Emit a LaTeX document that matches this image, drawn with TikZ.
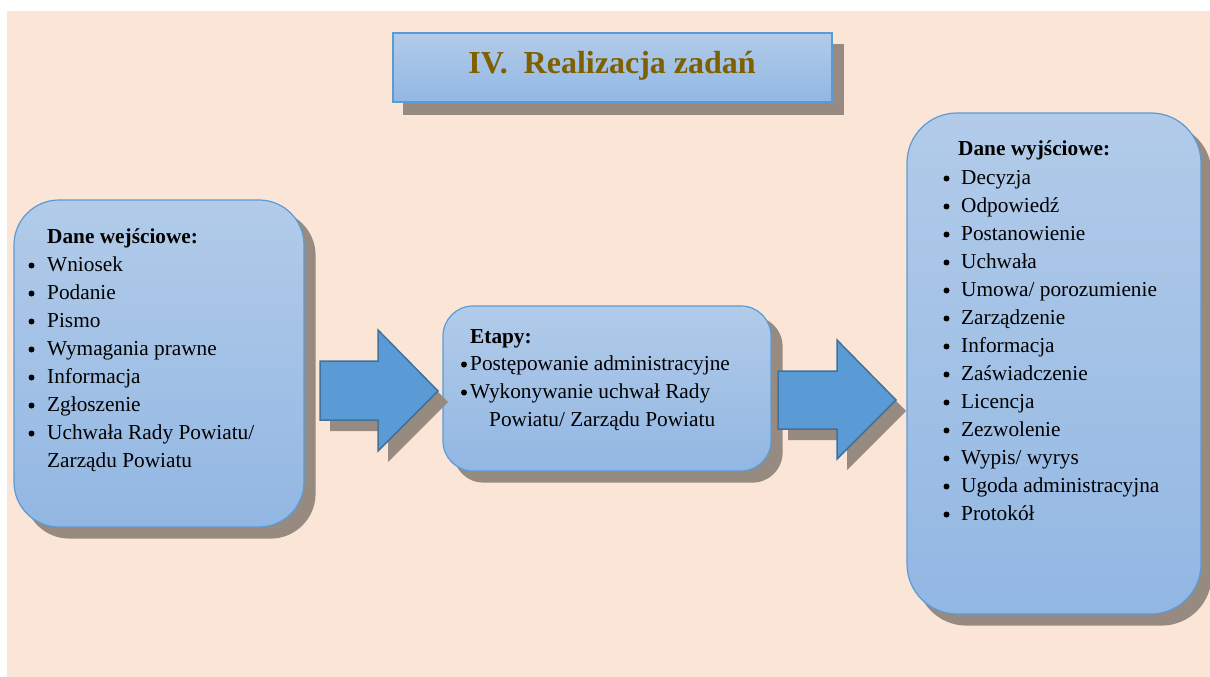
\documentclass[tikz,border=0pt]{standalone}
\usepackage{fontspec}
\setmainfont{Liberation Serif}
\usetikzlibrary{backgrounds}
\definecolor{peach}{RGB}{251,229,214}
\definecolor{boxtop}{RGB}{178,203,233}
\definecolor{boxbot}{RGB}{146,183,227}
\definecolor{boxline}{RGB}{91,155,213}
\definecolor{arrowfill}{RGB}{91,155,213}
\definecolor{arrowline}{RGB}{65,113,156}
\definecolor{shadowc}{RGB}{151,139,129}
\definecolor{titlec}{RGB}{127,96,0}
\begin{document}
\begin{tikzpicture}[x=1pt,y=-1pt,
  panel/.style={draw=boxline,line width=1.2pt,top color=boxtop,bottom color=boxbot,inner sep=0pt},
  txt/.style={anchor=base west,inner sep=0pt,font=\fontsize{21.3}{28}\selectfont},
  hdr/.style={anchor=base west,inner sep=0pt,font=\fontsize{21.3}{28}\selectfont\bfseries},
  dot/.style={circle,fill=black,inner sep=0pt,minimum size=6pt},
  bigarrow/.style={fill=arrowfill,draw=arrowline,line width=1.5pt,line join=miter},
  shadowfill/.style={fill=shadowc}]
\useasboundingbox (0,0) rectangle (1210,677);

% panels
\node[panel,minimum width=439pt,minimum height=69pt] (title) at (612.5,67.5) {};
\node[panel,minimum width=290pt,minimum height=327pt,rounded corners=45pt] (boxin) at (159,363.5) {};
\node[panel,minimum width=328pt,minimum height=165pt,rounded corners=30pt] (boxmid) at (607,388.5) {};
\node[panel,minimum width=294pt,minimum height=501pt,rounded corners=50pt] (boxout) at (1054,363.5) {};

% title
\node[anchor=base,inner sep=0pt,font=\fontsize{32}{38}\selectfont\bfseries,text=titlec] (titletext) at (612,74) {IV.\ \ Realizacja zadań};

% input box
\node[hdr] (inh) at (47,243) {Dane wejściowe:};
\foreach \t [count=\i from 0] in {Wniosek,Podanie,Pismo,Wymagania prawne,Informacja,Zgłoszenie,Uchwała Rady Powiatu/}{
  \node[dot] (inb\i) at (31.5,265.5+28*\i) {};
  \node[txt] (ini\i) at (47,271+28*\i) {\t};
}
\node[txt] (ini7) at (47,467) {Zarządu Powiatu};

% middle box
\node[hdr] (midh) at (470,343) {Etapy:};
\node[dot] (midb0) at (464,364.5) {};
\node[txt] (midi0) at (470,370) {Postępowanie administracyjne};
\node[dot] (midb1) at (464,392.5) {};
\node[txt] (midi1) at (470,398) {Wykonywanie uchwał Rady};
\node[txt] (midi2) at (489,426) {Powiatu/ Zarządu Powiatu};

% output box
\node[hdr] (outh) at (958,155) {Dane wyjściowe:};
\foreach \t [count=\i from 0] in {Decyzja,Odpowiedź,Postanowienie,Uchwała,Umowa/ porozumienie,Zarządzenie,Informacja,Zaświadczenie,Licencja,Zezwolenie,Wypis/ wyrys,Ugoda administracyjna,Protokół}{
  \node[dot] (outb\i) at (946.5,178.5+28*\i) {};
  \node[txt] (outi\i) at (961,184+28*\i) {\t};
}

% block arrows
\begin{scope}[shift={(10,11)}]
  \fill[shadowfill] (320,361) -- (378,361) -- (378,330) -- (438,391) -- (378,451) -- (378,420) -- (320,420) -- cycle;
\end{scope}
\draw[bigarrow] (320,361) -- (378,361) -- (378,330) -- (438,391) -- (378,451) -- (378,420) -- (320,420) -- cycle;
\begin{scope}[shift={(10,11)}]
  \fill[shadowfill] (778,371) -- (837,371) -- (837,340) -- (896,400) -- (837,459) -- (837,429) -- (778,429) -- cycle;
\end{scope}
\draw[bigarrow] (778,371) -- (837,371) -- (837,340) -- (896,400) -- (837,459) -- (837,429) -- (778,429) -- cycle;

\begin{pgfonlayer}{background}
  \fill[peach] (7,11) rectangle (1210,677);
  \fill[shadowfill] ([shift={(11,12)}]title.north west) rectangle ([shift={(11,12)}]title.south east);
  \fill[shadowfill,rounded corners=45pt] ([shift={(11,11)}]boxin.north west) rectangle ([shift={(11,11)}]boxin.south east);
  \fill[shadowfill,rounded corners=30pt] ([shift={(11,11)}]boxmid.north west) rectangle ([shift={(11,11)}]boxmid.south east);
  \fill[shadowfill,rounded corners=50pt] ([shift={(10,11)}]boxout.north west) rectangle ([shift={(10,11)}]boxout.south east);
\end{pgfonlayer}
\end{tikzpicture}
\end{document}
